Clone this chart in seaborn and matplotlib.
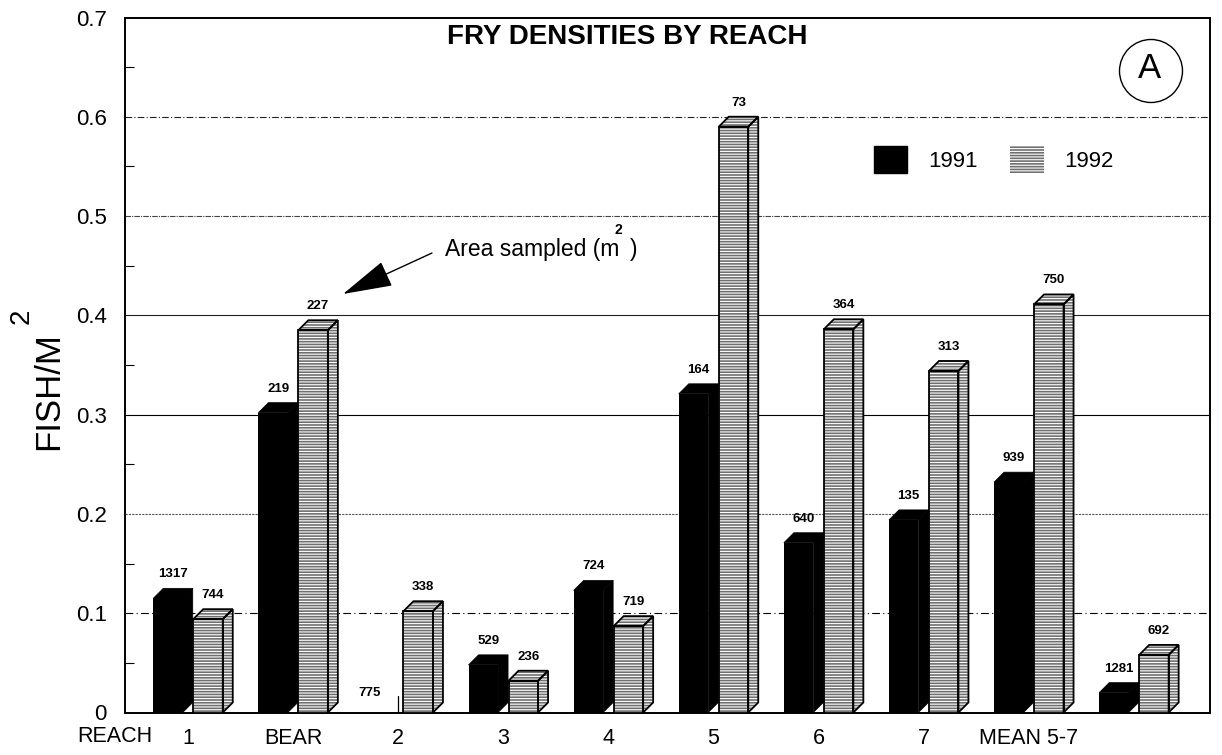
# Fry densities by reach, 1991 vs 1992, fake-3D bars on top of a seaborn barplot
import matplotlib
matplotlib.use("Agg")
import matplotlib.pyplot as plt
from matplotlib.patches import Ellipse, Patch, Polygon
import numpy as np
import pandas as pd
import seaborn as sns

# =======================
# Data
# =======================
reaches = ["1", "BEAR", "2", "3", "4", "5", "6", "7", "MEAN 5-7", " "]
density_1991 = [0.115, 0.302, 0.0, 0.048, 0.123, 0.321, 0.171, 0.194, 0.232, 0.020]
density_1992 = [0.094, 0.385, 0.102, 0.032, 0.087, 0.590, 0.386, 0.344, 0.411, 0.058]
area_1991 = ["1317", "219", "775", "529", "724", "164", "640", "135", "939", "1281"]
area_1992 = ["744", "227", "338", "236", "719", "73", "364", "313", "750", "692"]
years = ["1991", "1992"]
y_ticks = [0, 0.1, 0.2, 0.3, 0.4, 0.5, 0.6, 0.7]
y_tick_labels = ["0", "0.1", "0.2", "0.3", "0.4", "0.5", "0.6", "0.7"]
reach2_stub = 0.017  # the little line left of the 1992 bar in reach 2

W, H = 1222, 755
AX_L, AX_R, AX_T, AX_B = 125, 1210, 17.5, 712.5
PX_X = 105.1  # pixels per category
PX_Y = (AX_B - AX_T) / 0.7  # pixels per unit of density
DX = 10 / PX_X
DY = 10 / PX_Y
STRIPE = "#6f6f6f"
FONT = ["Liberation Sans", "DejaVu Sans"]

sns.set_theme(style="white")
plt.rcParams["font.family"] = FONT
plt.rcParams["hatch.linewidth"] = 0.8


def fig_xy(px, py):
    # picture pixels to figure fraction
    return px / W, 1 - py / H


df = pd.DataFrame({
    "reach": reaches * 2,
    "year": [years[0]] * len(reaches) + [years[1]] * len(reaches),
    "density": density_1991 + density_1992,
})

fig = plt.figure(figsize=(W / 100, H / 100), dpi=100)
ax = fig.add_axes([AX_L / W, 1 - AX_B / H, (AX_R - AX_L) / W, (AX_B - AX_T) / H])

sns.barplot(
    data=df, x="reach", y="density", hue="year",
    palette={"1991": "black", "1992": STRIPE},
    width=0.761, gap=0.262, linewidth=0, legend=False, ax=ax,
)
ax.set_xlim((AX_L - 188) / PX_X, (AX_R - 188) / PX_X)
ax.set_ylim(0, 0.7)

# =======================
# Grid lines, each one looks a bit different in the scan
# =======================
grid_levels = [0.1, 0.2, 0.3, 0.4, 0.5, 0.6]
grid_styles = [(0, (7, 3, 1, 3)), (0, (2, 1)), "-", "-", (0, (5, 1, 1, 1)), (0, (6, 2, 1, 2))]
grid_colors = ["black", "#555555", "black", "#222222", "#444444", "#222222"]
for level, style, color in zip(grid_levels, grid_styles, grid_colors):
    ax.axhline(level, color=color, lw=0.8, ls=style, zorder=0.5)


# =======================
# 3D faces from the bars seaborn drew
# =======================
def add_face(points, year, z):
    if year == "1991":
        ax.add_patch(Polygon(points, closed=True, facecolor="black", edgecolor="black", lw=0.5, zorder=z))
    else:
        ax.add_patch(Polygon(points, closed=True, facecolor=STRIPE, edgecolor="white",
                             hatch="------", lw=0, zorder=z))
        ax.add_patch(Polygon(points, closed=True, fill=False, edgecolor="black", lw=1.3, zorder=z + 0.1))


bars = list(ax.patches)
n = len(reaches)
nudge = {"775": (-14, 5)}
labels = area_1991 + area_1992
for i, bar in enumerate(bars[:2 * n]):
    year = years[i // n]
    x0, w, v = bar.get_x(), bar.get_width(), bar.get_height()
    x1 = x0 + w
    z = 2 if year == "1991" else 3
    bar.set_zorder(z)
    if year == "1992":
        bar.set_edgecolor("white")
        bar.set_hatch("------")
        add_face([(x0, 0), (x1, 0), (x1, v), (x0, v)], year, z)
    if v > 0:
        add_face([(x1, 0), (x1 + DX, DY), (x1 + DX, v + DY), (x1, v)], year, z)
        add_face([(x0, v), (x1, v), (x1 + DX, v + DY), (x0 + DX, v + DY)], year, z)
    # area sampled, above the top face
    ox, oy = nudge.get(labels[i], (0, 0))
    ax.text(x0 + (w + DX) / 2 + ox / PX_X, v + DY + (14 - oy) / PX_Y, labels[i],
            ha="center", va="center", fontsize=9.5, fontweight="bold", color="black", zorder=5)

stub_x = bars[n + 2].get_x() - 5 / PX_X
ax.plot([stub_x, stub_x], [0, reach2_stub], color="black", lw=0.9, zorder=3)

# =======================
# Axes
# =======================
ax.set_xlabel("")
ax.set_ylabel("")
ax.set_yticks(y_ticks)
ax.set_yticklabels(y_tick_labels, fontsize=16, color="black")
ax.set_yticks(np.array(y_ticks[:-1]) + 0.05, minor=True)
ax.tick_params(axis="y", which="major", length=0, pad=13)
ax.tick_params(axis="y", which="minor", left=True, direction="in", length=6.5, width=0.8, color="black")
ax.set_xticks(range(n))
ax.set_xticklabels(reaches, fontsize=15.5, color="black")
ax.tick_params(axis="x", length=0, pad=11)
for spine in ax.spines.values():
    spine.set_visible(True)
    spine.set_color("black")
    spine.set_linewidth(1.4)

# =======================
# Text and annotations
# =======================
fig.text(*fig_xy(627, 37), "FRY DENSITIES BY REACH", fontsize=20, fontweight="bold",
         ha="center", va="center", color="black")
fig.text(*fig_xy(115, 736), "REACH", fontsize=15.5, ha="center", va="center", color="black")
fig.text(*fig_xy(49, 391), "FISH/M", fontsize=25, rotation=90, ha="center", va="center", color="black")
fig.text(*fig_xy(22, 316), "2", fontsize=20, rotation=90, ha="center", va="center", color="black")

fig.text(*fig_xy(445, 256), "Area sampled (m", fontsize=16.5, ha="left", va="baseline", color="black")
fig.text(*fig_xy(630, 256), ")", fontsize=16.5, ha="left", va="baseline", color="black")
fig.text(*fig_xy(618, 230), "2", fontsize=10, fontweight="bold", ha="center", va="center", color="black")
ax.annotate(
    "", xy=fig_xy(343, 294), xytext=fig_xy(432, 253),
    xycoords="figure fraction", textcoords="figure fraction",
    arrowprops=dict(arrowstyle="-|>,head_length=3.2,head_width=0.85", mutation_scale=10,
                    color="black", lw=1, shrinkA=0, shrinkB=0),
)

cx, cy = fig_xy(1151, 71)
fig.add_artist(Ellipse((cx, cy), 63 / W, 63 / H, transform=fig.transFigure,
                       fill=False, edgecolor="black", lw=1))
fig.text(*fig_xy(1149, 69), "A", fontsize=25, ha="center", va="center", color="black")

# Legend
handles = [
    Patch(facecolor="black", edgecolor="black", label="1991"),
    Patch(facecolor=STRIPE, edgecolor="white", hatch="------", lw=0, label="1992"),
]
ax.legend(
    handles=handles, ncol=2, frameon=False, fontsize=16, loc="upper left",
    bbox_to_anchor=fig_xy(874, 146), bbox_transform=fig.transFigure,
    borderpad=0, borderaxespad=0, handlelength=1.5, handleheight=1.5,
    handletextpad=0.95, columnspacing=1.45, labelcolor="black",
)

fig.savefig("out.png", dpi=100, facecolor="white")
